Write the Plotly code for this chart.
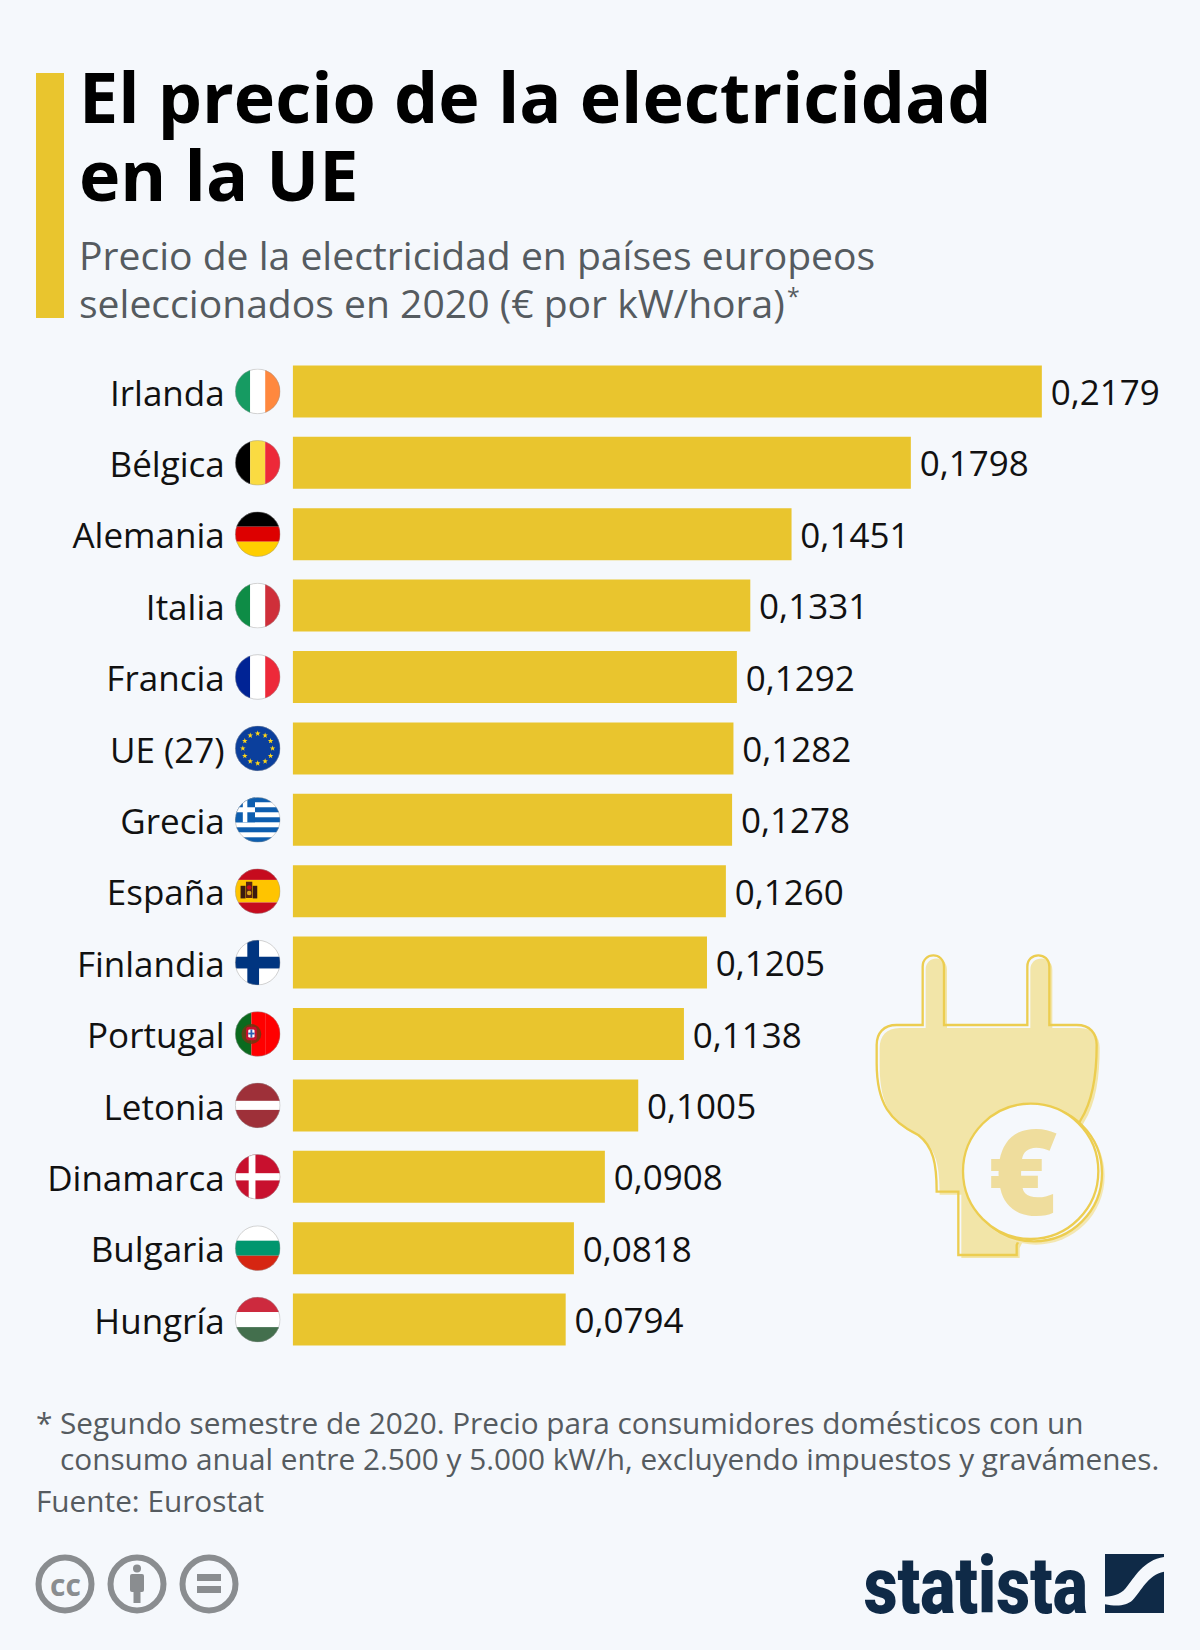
import base64, math
import plotly.graph_objects as go

countries = ["Irlanda", "Bélgica", "Alemania", "Italia", "Francia", "UE (27)", "Grecia", "España",
             "Finlandia", "Portugal", "Letonia", "Dinamarca", "Bulgaria", "Hungría"]
prices = [0.2179, 0.1798, 0.1451, 0.1331, 0.1292, 0.1282, 0.1278, 0.1260,
          0.1205, 0.1138, 0.1005, 0.0908, 0.0818, 0.0794]
title_lines = ["El precio de la electricidad", "en la UE"]
subtitle_lines = ["Precio de la electricidad en países europeos",
                  "seleccionados en 2020 (€ por kW/hora)"]
note_lines = ["Segundo semestre de 2020. Precio para consumidores domésticos con un",
              "consumo anual entre 2.500 y 5.000 kW/h, excluyendo impuestos y gravámenes."]
source = "Fuente: Eurostat"

W, H = 1200, 1650
BG = "#F5F8FC"
YEL = "#E9C52E"
FONT = "Open Sans"
LEFT = 292.7
PX_PER_UNIT = 3438
ROW0, STEP = 391.4, 71.4


def px(x): return x / W
def py(y): return 1 - y / H


def uri(svg):
    return "data:image/svg+xml;base64," + base64.b64encode(svg.encode()).decode()


def vstripes(a, b, c, wa=1/3, wb=1/3):
    x1, x2 = 100 * wa, 100 * (wa + wb)
    return (f'<rect width="{x1}" height="100" fill="{a}"/><rect x="{x1}" width="{x2-x1}" height="100" fill="{b}"/>'
            f'<rect x="{x2}" width="{100-x2}" height="100" fill="{c}"/>')


def hstripes(a, b, c, ha=1/3, hb=1/3):
    y1, y2 = 100 * ha, 100 * (ha + hb)
    return (f'<rect width="100" height="{y1}" fill="{a}"/><rect y="{y1}" width="100" height="{y2-y1}" fill="{b}"/>'
            f'<rect y="{y2}" width="100" height="{100-y2}" fill="{c}"/>')


def star(cx, cy, r):
    pts = []
    for k in range(10):
        rr = r if k % 2 == 0 else r * 0.4
        a = -math.pi / 2 + k * math.pi / 5
        pts.append(f"{cx + rr*math.cos(a):.2f},{cy + rr*math.sin(a):.2f}")
    return f'<polygon points="{" ".join(pts)}" fill="#FFD617"/>'


eu = '<rect width="100" height="100" fill="#0B3F9C"/>' + "".join(
    star(50 + 33 * math.cos(k * math.pi / 6), 50 + 33 * math.sin(k * math.pi / 6), 6.5) for k in range(12))

gr_blue = "#0D5EAF"
greece = '<rect width="100" height="100" fill="#fff"/>' + "".join(
    f'<rect y="{y}" width="100" height="11.1" fill="{gr_blue}"/>' for y in (0, 22.2, 44.4, 66.6, 88.8)
) + (f'<rect width="44" height="55.5" fill="{gr_blue}"/><rect x="17" width="10" height="55.5" fill="#fff"/>'
     '<rect y="22.2" width="44" height="11.1" fill="#fff"/>')

spain = hstripes("#C60B1E", "#FFC400", "#C60B1E", 0.25, 0.5) + (
    '<rect x="12" y="38" width="11" height="28" fill="#3a1a10"/><rect x="24" y="29" width="14" height="36" fill="#5a2412"/>'
    '<rect x="39" y="38" width="10" height="28" fill="#3a1a10"/><circle cx="31" cy="42" r="5" fill="#C60B1E"/>'
    '<circle cx="31" cy="54" r="5" fill="#d9a520"/>')

finland = ('<rect width="100" height="100" fill="#fff"/><rect x="27" width="26" height="100" fill="#003580"/>'
           '<rect y="37" width="100" height="26" fill="#003580"/>')

portugal = vstripes("#0A6A1E", "#FF0000", "#FF0000", 0.36, 0.32) + (
    '<circle cx="36" cy="50" r="22" fill="#6b3a12" opacity=".85"/>'
    '<rect x="24" y="34" width="24" height="30" rx="7" fill="#C8102E"/>'
    '<rect x="29" y="40" width="14" height="18" rx="3" fill="#fff"/>'
    '<rect x="34" y="40" width="4" height="18" fill="#2C5FB3"/><rect x="29" y="47" width="14" height="4" fill="#2C5FB3"/>')

denmark = ('<rect width="100" height="100" fill="#C8102E"/><rect x="30" width="15" height="100" fill="#fff"/>'
           '<rect y="42" width="100" height="16" fill="#fff"/>')

flags = {
    "Irlanda": vstripes("#169B62", "#FFFFFF", "#FF883E"),
    "Bélgica": vstripes("#000000", "#FADB42", "#ED2939"),
    "Alemania": hstripes("#000000", "#DD0000", "#FFCE00"),
    "Italia": vstripes("#0E8C46", "#FFFFFF", "#CF2F3A"),
    "Francia": vstripes("#002395", "#FFFFFF", "#ED2939"),
    "UE (27)": eu,
    "Grecia": greece,
    "España": spain,
    "Finlandia": finland,
    "Portugal": portugal,
    "Letonia": hstripes("#9E3039", "#FFFFFF", "#9E3039", 0.4, 0.2),
    "Dinamarca": denmark,
    "Bulgaria": hstripes("#FFFFFF", "#00966E", "#D62612"),
    "Hungría": hstripes("#CD2A3E", "#FFFFFF", "#436F4D"),
}


def flag_svg(body):
    return (f'<svg xmlns="http://www.w3.org/2000/svg" width="100" height="100" viewBox="-1 -1 102 102">'
            f'<defs><clipPath id="c"><circle cx="50" cy="50" r="50"/></clipPath></defs>'
            f'<g clip-path="url(#c)">{body}</g>'
            f'<circle cx="50" cy="50" r="49.5" fill="none" stroke="#9a9a9a" stroke-width="1"/></svg>')


plug_d = ("M248 285 V110 C248 65 312 65 312 110 V285 H562 V110 C562 65 628 65 628 110 V285 H710 "
          "C750 285 770 310 770 345 C770 430 760 510 722 570 L600 800 L530 945 V975 H355 V785 H290 "
          "C290 700 280 650 235 615 C150 575 110 520 110 400 V345 C110 310 130 285 170 285 Z")
plug_svg = (f'<svg xmlns="http://www.w3.org/2000/svg" width="900" height="1020" viewBox="0 0 900 1020">'
            f'<path d="{plug_d}" transform="translate(9 9)" fill="#F2E5A8"/>'
            f'<path d="{plug_d}" fill="none" stroke="#ECCD50" stroke-width="7"/>'
            f'<circle cx="588" cy="738" r="206" fill="#F3E7B2"/>'
            f'<circle cx="582" cy="730" r="204" fill="{BG}" stroke="#ECCD50" stroke-width="7"/>'
            f'<circle cx="572" cy="724" r="203" fill="{BG}" stroke="#ECCD50" stroke-width="7"/>'
            f'</svg>')

GREY_ICON = "#8A8D90"


def ring(inner):
    return (f'<svg xmlns="http://www.w3.org/2000/svg" width="60" height="60" viewBox="0 0 60 60">'
            f'<circle cx="30" cy="30" r="26.5" fill="none" stroke="{GREY_ICON}" stroke-width="6"/>{inner}</svg>')


cc_ring = ring("")
by_ring = ring(f'<circle cx="30" cy="14.5" r="4" fill="{GREY_ICON}"/>'
               f'<rect x="23" y="20" width="14" height="18" rx="2" fill="{GREY_ICON}"/>'
               f'<rect x="26.5" y="36" width="7" height="13" fill="{GREY_ICON}"/>')
eq_ring = ring(f'<rect x="18" y="20" width="24" height="7" fill="{GREY_ICON}"/>'
               f'<rect x="18" y="32" width="24" height="7" fill="{GREY_ICON}"/>')

logo_svg = ('<svg xmlns="http://www.w3.org/2000/svg" width="100" height="100" viewBox="0 0 100 100">'
            '<path d="M0 0 H100 V5 C65 10 50 40 35 58 C25 70 10 72 0 72 Z" fill="#0F2A47"/>'
            '<path d="M100 30 C72 36 62 62 47 78 C35 90 15 88 0 85 V100 H100 Z" fill="#0F2A47"/></svg>')

fig = go.Figure(go.Bar(
    x=prices, y=countries, orientation="h", width=52 / STEP,
    marker=dict(color=YEL, line=dict(width=0)),
    texttemplate="\u2009%{x:.4f}", textposition="outside", cliponaxis=False, constraintext="none",
    textfont=dict(family=FONT, size=35, color="#111111"),
))


def label(x, y, text, size, color, bold=False, anchor="left", family=FONT, weight=None):
    font = dict(family=family, size=size, color=color)
    if weight:
        font["weight"] = weight
    return dict(x=px(x), y=py(y), xref="paper", yref="paper", text=f"<b>{text}</b>" if bold else text,
                showarrow=False, xanchor=anchor, yanchor="middle", borderpad=0, font=font)


annotations = [
    label(78, 96, title_lines[0], 70, "#000000", True),
    label(78, 174, title_lines[1], 70, "#000000", True),
    label(78, 254, subtitle_lines[0], 39.1, "#555B60"),
    label(78, 302, subtitle_lines[1], 39.1, "#555B60"),
    label(786, 296, "*", 23, "#555B60"),
    label(35, 1422, "*", 29.8, "#555B60"),
    label(59, 1422, note_lines[0], 29.75, "#555B60"),
    label(59, 1458.5, note_lines[1], 29.75, "#555B60"),
    label(35, 1500, source, 29.75, "#555B60"),
    label(65, 1584, "<b>cc</b>", 30, GREY_ICON, anchor="center"),
    label(1023, 1169, "€", 119, "#EFDD9D", anchor="center", weight=800),
    label(976, 1586, "statista", 80, "#0F2A47", anchor="center", family="Roboto", weight=900),
]

images = [dict(source=uri(flag_svg(flags[c])), xref="paper", yref="y", x=px(257.7), y=c,
               sizex=46 / W, sizey=46 / STEP, xanchor="center", yanchor="middle", sizing="stretch", layer="above")
          for c in countries]
for src, cx, cy, w, h in [(plug_svg, 990, 1100, 300, 340), (cc_ring, 65, 1584, 60, 60), (by_ring, 137, 1584, 60, 60),
                          (eq_ring, 209, 1584, 60, 60), (logo_svg, 1134.5, 1583.5, 59, 59)]:
    images.append(dict(source=uri(src), xref="paper", yref="paper", x=px(cx), y=py(cy), sizex=w / W, sizey=h / H,
                       xanchor="center", yanchor="middle", sizing="stretch", layer="below"))

fig.update_layout(
    width=W, height=H, autosize=False, margin=dict(l=0, r=0, t=0, b=0),
    paper_bgcolor=BG, plot_bgcolor="rgba(0,0,0,0)", showlegend=False, separators=",.",
    xaxis=dict(domain=[LEFT / W, 1], range=[0, (W - LEFT) / PX_PER_UNIT], visible=False),
    yaxis=dict(type="category", categoryorder="array", categoryarray=countries,
               range=[(H - ROW0) / STEP, -ROW0 / STEP], dtick=1, ticks="", showgrid=False, showline=False,
               zeroline=False, ticklabelstandoff=67, ticklabelshift=-2, automargin=False,
               tickfont=dict(family=FONT, size=35, color="#111111")),
    annotations=annotations, images=images,
    shapes=[dict(type="rect", xref="paper", yref="paper", x0=px(36), x1=px(64), y0=py(73), y1=py(318),
                 fillcolor=YEL, line=dict(width=0))],
)

post = f"""
document.body.style.margin='0';document.body.style.overflow='hidden';document.body.style.background='{BG}';
document.querySelectorAll('.annotation-text').forEach(function(t){{
  if(t.textContent==='statista'){{
    var b=t.getBBox(),cx=b.x+b.width/2,cy=b.y+b.height/2,s=224/b.width;
    t.setAttribute('transform','translate('+cx+' '+cy+') scale('+s+' 1) translate('+(-cx)+' '+(-cy)+')');
  }}
}});
"""
fig.write_html("out.html", config=dict(displayModeBar=False), post_script=post)
